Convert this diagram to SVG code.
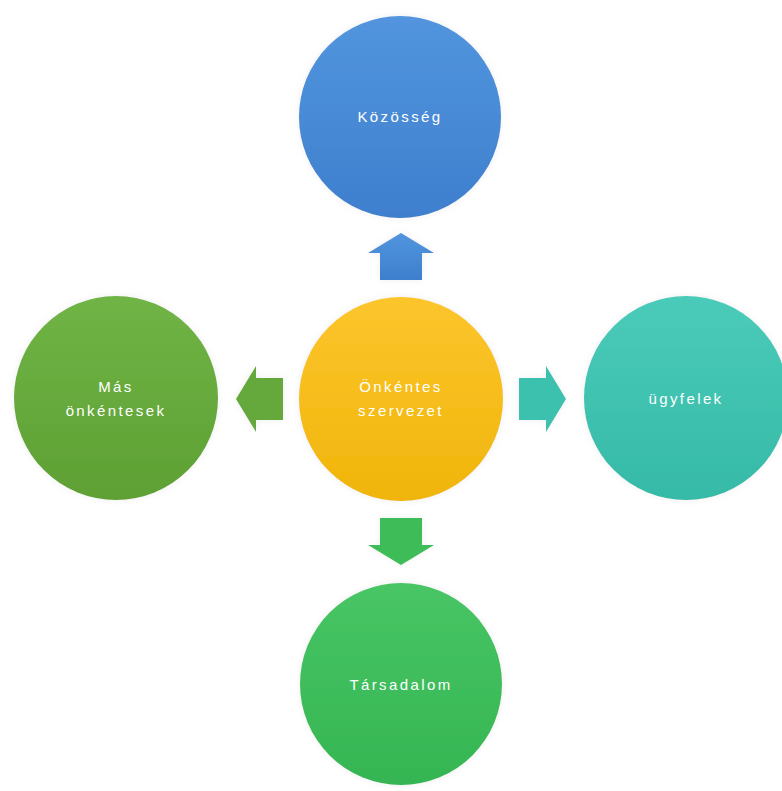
<svg xmlns="http://www.w3.org/2000/svg" xmlns:xlink="http://www.w3.org/1999/xlink" width="782" height="791" viewBox="0 0 782 791">
  <style>
    .lbl { font-family: "Liberation Sans", "DejaVu Sans", sans-serif; font-size: 15px; fill: #ffffff; text-anchor: middle; letter-spacing: 2.4px; }
  </style>
  <defs>
    <linearGradient id="gBlue" x1="0" y1="0" x2="0" y2="1">
      <stop offset="0" stop-color="#5295DE"/>
      <stop offset="1" stop-color="#3E7FCD"/>
    </linearGradient>
    <linearGradient id="gYellow" x1="0" y1="0" x2="0" y2="1">
      <stop offset="0" stop-color="#FCC52C"/>
      <stop offset="1" stop-color="#F0B50A"/>
    </linearGradient>
    <linearGradient id="gLeft" x1="0" y1="0" x2="0" y2="1">
      <stop offset="0" stop-color="#70B446"/>
      <stop offset="1" stop-color="#5EA033"/>
    </linearGradient>
    <linearGradient id="gTeal" x1="0" y1="0" x2="0" y2="1">
      <stop offset="0" stop-color="#4BCBB9"/>
      <stop offset="1" stop-color="#35BAA7"/>
    </linearGradient>
    <linearGradient id="gBottom" x1="0" y1="0" x2="0" y2="1">
      <stop offset="0" stop-color="#48C565"/>
      <stop offset="1" stop-color="#35B552"/>
    </linearGradient>
    <filter id="glow" x="-20%" y="-20%" width="140%" height="140%">
      <feGaussianBlur in="SourceAlpha" stdDeviation="3"/>
      <feColorMatrix type="matrix" values="0 0 0 0 0.5  0 0 0 0 0.5  0 0 0 0 0.5  0 0 0 0.25 0"/>
      <feMerge><feMergeNode/><feMergeNode in="SourceGraphic"/></feMerge>
    </filter>
    <path id="arrowUp" d="M0,-24 L33,-4 L21,-4 L21,23 L-21,23 L-21,-4 L-33,-4 Z"/>
  </defs>

  <rect width="782" height="791" fill="#ffffff"/>

  <g id="connectors">
    <use xlink:href="#arrowUp" href="#arrowUp" transform="translate(401,257)" fill="url(#gBlue)" filter="url(#glow)"/>
    <use xlink:href="#arrowUp" href="#arrowUp" transform="translate(401,541) rotate(180)" fill="#3DBC58" filter="url(#glow)"/>
    <use xlink:href="#arrowUp" href="#arrowUp" transform="translate(260,399) rotate(-90)" fill="#65A83B" filter="url(#glow)"/>
    <use xlink:href="#arrowUp" href="#arrowUp" transform="translate(542,399) rotate(90)" fill="#3EC1AF" filter="url(#glow)"/>
  </g>

  <g id="node-kozosseg">
    <circle cx="400" cy="117" r="101" fill="url(#gBlue)" filter="url(#glow)"/>
    <text class="lbl" x="400" y="122">Közösség</text>
  </g>

  <g id="node-onkentes-szervezet">
    <circle cx="401" cy="399" r="102" fill="url(#gYellow)" filter="url(#glow)"/>
    <text class="lbl" x="401" y="392">Önkéntes</text>
    <text class="lbl" x="401" y="416">szervezet</text>
  </g>

  <g id="node-mas-onkentesek">
    <circle cx="116" cy="398" r="102" fill="url(#gLeft)" filter="url(#glow)"/>
    <text class="lbl" x="116" y="392">Más</text>
    <text class="lbl" x="116" y="416">önkéntesek</text>
  </g>

  <g id="node-ugyfelek">
    <circle cx="686" cy="398" r="102" fill="url(#gTeal)" filter="url(#glow)"/>
    <text class="lbl" x="686" y="404">ügyfelek</text>
  </g>

  <g id="node-tarsadalom">
    <circle cx="401" cy="684" r="101" fill="url(#gBottom)" filter="url(#glow)"/>
    <text class="lbl" x="401" y="690">Társadalom</text>
  </g>
</svg>
